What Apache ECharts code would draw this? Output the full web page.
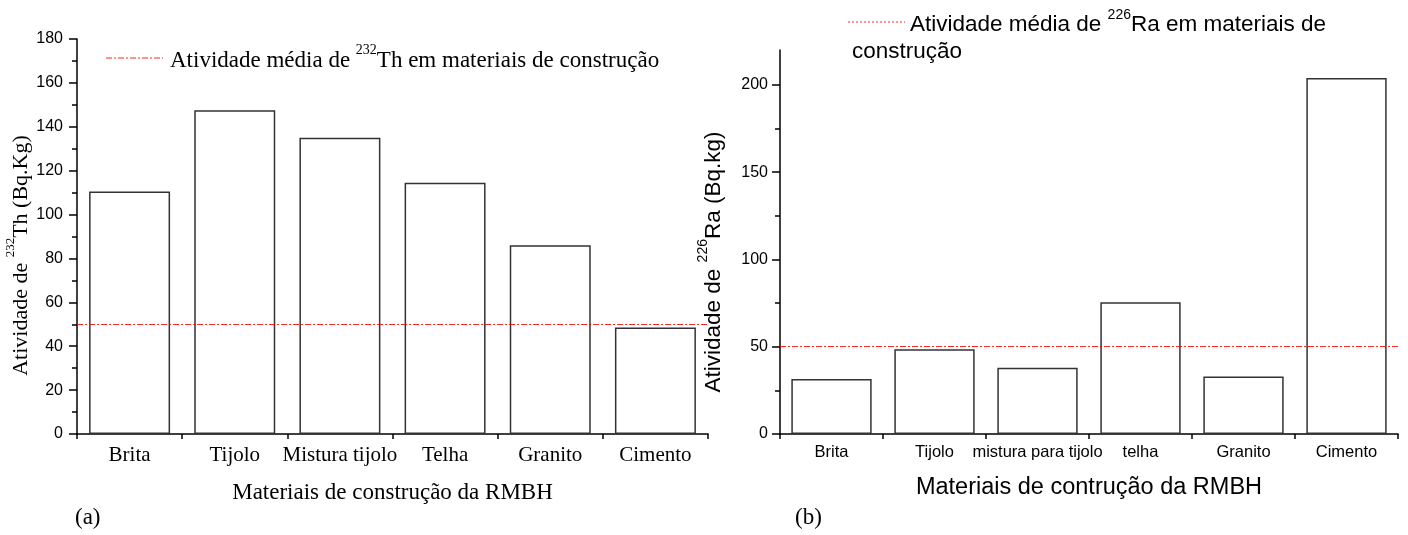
<!DOCTYPE html>
<html>
<head>
<meta charset="utf-8">
<title>Atividade de 232Th e 226Ra em materiais de construção da RMBH</title>
<script src="https://cdn.jsdelivr.net/npm/echarts@6/dist/echarts.min.js"></script>
<style>
  html, body { margin: 0; padding: 0; background: #fff; }
  #chart { width: 1408px; height: 535px; }
</style>
</head>
<body>
<div id="chart"></div>
<script>
// (a) Th-232 activity per material
const categoriesTh = ['Brita', 'Tijolo', 'Mistura tijolo', 'Telha', 'Granito', 'Cimento'];
const thValues = [110.5, 147.5, 135, 114.5, 86, 48.5];
const thMean = 50;

// (b) Ra-226 activity per material
const categoriesRa = ['Brita', 'Tijolo', 'mistura para tijolo', 'telha', 'Granito', 'Cimento'];
const raValues = [31.5, 48.5, 38, 75.5, 33, 204];
const raMean = 50;

// tick values for the Ra axis
const raMajorTicks = [0, 50, 100, 150, 200];
const raMinorTicks = [25, 75, 125, 175];

const SERIF = 'Liberation Serif, Times New Roman, serif';
const SANS = 'Liberation Sans, Arial, sans-serif';
const RED = 'rgba(255,0,0,0.85)';
const DASHDOT = [6, 2, 2, 2];

const chart = echarts.init(document.getElementById('chart'), null, { renderer: 'canvas' });

const supRich = (family, size, supSize) => ({
  t: { fontFamily: family, fontSize: size, color: '#000', lineHeight: size + 6, verticalAlign: 'bottom' },
  s: { fontFamily: family, fontSize: supSize, color: '#000', lineHeight: size + 6, verticalAlign: 'top' }
});

const axisLine = { show: true, onZero: false, lineStyle: { color: '#000', width: 1.5 } };

const option = {
  animation: false,
  backgroundColor: '#fff',
  grid: [
    { left: 77, right: 700, top: 39, bottom: 101, containLabel: false },
    { left: 780, right: 10, top: 50, bottom: 101, containLabel: false }
  ],
  xAxis: [
    {
      type: 'category', gridIndex: 0, data: categoriesTh,
      axisLine: axisLine,
      axisTick: { show: true, length: 5, lineStyle: { color: '#000', width: 1.5 } },
      axisLabel: { fontFamily: SERIF, fontSize: 21, color: '#000', margin: 11, interval: 0 },
      name: 'Materiais de construção da RMBH',
      nameLocation: 'middle', nameGap: 47,
      nameTextStyle: { fontFamily: SERIF, fontSize: 23, color: '#000' }
    },
    {
      type: 'category', gridIndex: 1, data: categoriesRa,
      axisLine: axisLine,
      axisTick: { show: true, length: 5, lineStyle: { color: '#000', width: 1.5 } },
      axisLabel: { fontFamily: SANS, fontSize: 16.5, color: '#000', margin: 10, interval: 0 },
      name: 'Materiais de contrução da RMBH',
      nameLocation: 'middle', nameGap: 42,
      nameTextStyle: { fontFamily: SANS, fontSize: 23.5, color: '#000' }
    }
  ],
  yAxis: [
    {
      type: 'value', gridIndex: 0, min: 0, max: 180, interval: 20,
      axisLine: axisLine,
      axisTick: { show: true, length: 8, lineStyle: { color: '#000', width: 1.5 } },
      minorTick: { show: true, splitNumber: 2, length: 5, lineStyle: { color: '#000', width: 1.5 } },
      splitLine: { show: false },
      axisLabel: { fontFamily: SANS, fontSize: 16, color: '#000', margin: 14 },
      name: '{t|Atividade de }{s|232}{t|Th (Bq.Kg)}',
      nameLocation: 'middle', nameGap: 40, nameRotate: 90,
      nameTextStyle: { fontFamily: SERIF, fontSize: 22, color: '#000', padding: [0, 38, 0, 0], rich: supRich(SERIF, 22, 13) }
    },
    {
      type: 'value', gridIndex: 1, min: 0, max: 220, interval: 50,
      axisLine: axisLine,
      axisTick: { show: true, length: 8, customValues: raMajorTicks, lineStyle: { color: '#000', width: 1.5 } },
      splitLine: { show: false },
      axisLabel: { fontFamily: SANS, fontSize: 16, color: '#000', margin: 12, customValues: raMajorTicks },
      name: '{t|Atividade de }{s|226}{t|Ra (Bq.kg)}',
      nameLocation: 'middle', nameGap: 55, nameRotate: 90,
      nameTextStyle: { fontFamily: SANS, fontSize: 22.5, color: '#000', padding: [0, 40, 0, 0], rich: supRich(SANS, 22.5, 14) }
    },
    {
      // minor ticks of the Ra axis
      type: 'value', gridIndex: 1, min: 0, max: 220, position: 'left',
      axisLine: { show: false },
      axisTick: { show: true, length: 5, customValues: raMinorTicks, lineStyle: { color: '#000', width: 1.5 } },
      axisLabel: { show: false },
      splitLine: { show: false }
    }
  ],
  series: [
    {
      type: 'bar', xAxisIndex: 0, yAxisIndex: 0, data: thValues,
      barCategoryGap: '23%',
      itemStyle: { color: '#fff', borderColor: '#333', borderWidth: 1.5 },
      markLine: {
        silent: true, symbol: 'none', label: { show: false },
        lineStyle: { color: RED, type: DASHDOT, width: 1 },
        data: [{ yAxis: thMean }]
      }
    },
    {
      type: 'bar', xAxisIndex: 1, yAxisIndex: 1, data: raValues,
      barCategoryGap: '22%',
      itemStyle: { color: '#fff', borderColor: '#333', borderWidth: 1.5 },
      markLine: {
        silent: true, symbol: 'none', label: { show: false },
        lineStyle: { color: RED, type: DASHDOT, width: 1 },
        data: [{ yAxis: raMean }]
      }
    }
  ],
  graphic: [
    // legend of panel (a)
    { type: 'line', shape: { x1: 106, y1: 58, x2: 163, y2: 58 }, style: { stroke: RED, lineWidth: 1, lineDash: DASHDOT } },
    {
      type: 'text', x: 170, y: 58,
      style: {
        text: '{t|Atividade média de }{s|232}{t|Th em materiais de construção}',
        verticalAlign: 'middle', rich: supRich(SERIF, 23, 14)
      }
    },
    // legend of panel (b)
    { type: 'line', shape: { x1: 848, y1: 22, x2: 905, y2: 22 }, style: { stroke: RED, lineWidth: 1, lineDash: [2, 2] } },
    {
      type: 'text', x: 910, y: 22,
      style: {
        text: '{t|Atividade média de }{s|226}{t|Ra em materiais de}',
        verticalAlign: 'middle', rich: supRich(SANS, 22.5, 14)
      }
    },
    {
      type: 'text', x: 852, y: 52,
      style: { text: 'construção', fontFamily: SANS, fontSize: 22.5, fill: '#000', verticalAlign: 'middle' }
    },
    // panel letters
    { type: 'text', x: 75, y: 518, style: { text: '(a)', fontFamily: SERIF, fontSize: 23, fill: '#000', verticalAlign: 'middle' } },
    { type: 'text', x: 795, y: 518, style: { text: '(b)', fontFamily: SERIF, fontSize: 23, fill: '#000', verticalAlign: 'middle' } }
  ]
};

chart.setOption(option);
</script>
</body>
</html>
